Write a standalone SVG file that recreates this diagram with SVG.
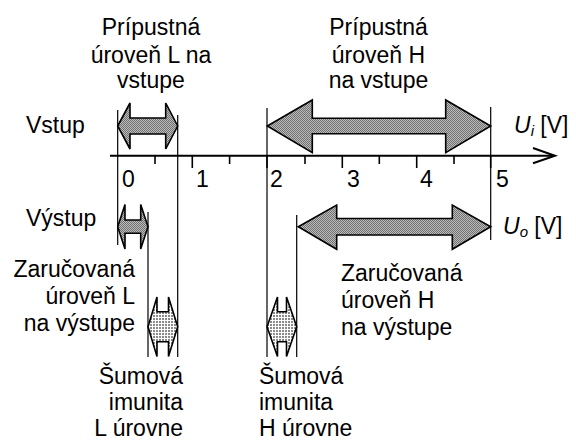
<svg xmlns="http://www.w3.org/2000/svg" width="576" height="442" viewBox="0 0 576 442">
<defs>
<pattern id="dots" width="2" height="2" patternUnits="userSpaceOnUse">
<rect width="2" height="2" fill="#bcbcbc"/>
<rect width="1" height="1" fill="#707070"/>
<rect x="1" y="1" width="1" height="1" fill="#707070"/>
</pattern>
<pattern id="grid" width="3" height="3" patternUnits="userSpaceOnUse">
<rect width="3" height="3" fill="#ffffff"/>
<rect width="2" height="2" fill="#8a8a8a"/>
</pattern>
</defs>
<style>
text{font-family:"Liberation Sans",Arial,sans-serif;font-size:23px;fill:#000}
.arr{stroke:#000;stroke-width:1.6;stroke-linejoin:miter}
.a1{fill:url(#dots)}
.a2{fill:url(#grid)}
.vl{stroke:#000;stroke-width:1.2;fill:none}
.tick{stroke:#000;stroke-width:1.6}
.mid{text-anchor:middle}
.end{text-anchor:end}
</style>
<rect width="576" height="442" fill="#fff"/>
<g id="guides">
<line class="vl" x1="117.7" y1="110" x2="117.7" y2="245"/>
<line class="vl" x1="177.7" y1="115" x2="177.7" y2="357"/>
<line class="vl" x1="148" y1="212" x2="148" y2="357"/>
<line class="vl" x1="267" y1="108" x2="267" y2="357"/>
<line class="vl" x1="296.7" y1="215" x2="296.7" y2="357"/>
<line class="vl" x1="490.7" y1="107" x2="490.7" y2="240"/>
</g>
<g id="axis">
<line x1="110" y1="155.7" x2="554" y2="155.7" stroke="#000" stroke-width="2"/>
<polyline points="533,148 555,155.7 533,163.3" fill="none" stroke="#000" stroke-width="2"/>
<line class="tick" x1="155" y1="155.7" x2="155" y2="164"/>
<line class="tick" x1="192.3" y1="155.7" x2="192.3" y2="168"/>
<line class="tick" x1="229.6" y1="155.7" x2="229.6" y2="164"/>
<line class="tick" x1="267" y1="155.7" x2="267" y2="168"/>
<line class="tick" x1="305" y1="155.7" x2="305" y2="164"/>
<line class="tick" x1="342.3" y1="155.7" x2="342.3" y2="168"/>
<line class="tick" x1="379.3" y1="155.7" x2="379.3" y2="164"/>
<line class="tick" x1="416.7" y1="155.7" x2="416.7" y2="168"/>
<line class="tick" x1="454" y1="155.7" x2="454" y2="164"/>
<line class="tick" x1="490.7" y1="155.7" x2="490.7" y2="168"/>
<text x="122" y="187">0</text>
<text x="196" y="187">1</text>
<text x="270" y="187">2</text>
<text x="347" y="187">3</text>
<text x="420" y="187">4</text>
<text x="496" y="187">5</text>
<text x="514" y="133"><tspan font-style="italic">U</tspan><tspan font-style="italic" font-size="15" dy="3">i</tspan><tspan dy="-3"> [V]</tspan></text>
<text x="503" y="234"><tspan font-style="italic">U</tspan><tspan font-style="italic" font-size="15" dy="3">o</tspan><tspan dy="-3"> [V]</tspan></text>
</g>
<g id="input-L">
<polygon class="arr a1" points="117.7,126 130,103 130,118 165.7,118 165.7,103 177.7,126 165.7,149 165.7,134 130,134 130,149"/>
<text class="mid" x="151" y="35">Prípustná</text>
<text class="mid" x="151" y="63">úroveň L na</text>
<text class="mid" x="151" y="88">vstupe</text>
</g>
<g id="input-H">
<polygon class="arr a1" points="267.3,126 312.3,100 312.3,118.3 445.7,118.3 445.7,100 490.7,126 445.7,152.7 445.7,133.7 312.3,133.7 312.3,152.7"/>
<text class="mid" x="378.5" y="35">Prípustná</text>
<text class="mid" x="378.5" y="63">úroveň H</text>
<text class="mid" x="378.5" y="88">na vstupe</text>
</g>
<g id="vstup-label">
<text x="26" y="133">Vstup</text>
</g>
<g id="vystup-label">
<text x="26" y="226">Výstup</text>
</g>
<g id="output-L">
<polygon class="arr a1" points="117.7,226.7 125,204.5 125,220 140.7,220 140.7,204.5 148,226.7 140.7,249 140.7,233.3 125,233.3 125,249"/>
<text class="end" x="135" y="277">Zaručovaná</text>
<text class="end" x="135" y="304">úroveň L</text>
<text class="end" x="135" y="331">na výstupe</text>
</g>
<g id="output-H">
<polygon class="arr a1" points="298.3,226.7 336.7,205 336.7,218.5 452.3,218.5 452.3,205 490.7,226.7 452.3,249.3 452.3,235 336.7,235 336.7,249.3"/>
<text x="341" y="281">Zaručovaná</text>
<text x="341" y="308">úroveň H</text>
<text x="341" y="335">na výstupe</text>
</g>
<g id="noise-L">
<polygon class="arr a2" points="148,326.7 157,297 157,311.7 168.5,311.7 168.5,297 177.7,326.7 168.5,356.5 168.5,341.7 157,341.7 157,356.5"/>
<text class="end" x="183" y="384">Šumová</text>
<text class="end" x="183" y="410">imunita</text>
<text class="end" x="183" y="436">L úrovne</text>
</g>
<g id="noise-H">
<polygon class="arr a2" points="267,326.7 277.5,297 277.5,311.7 286.5,311.7 286.5,297 296.7,326.7 286.5,356.5 286.5,341.7 277.5,341.7 277.5,356.5"/>
<text x="259" y="384">Šumová</text>
<text x="259" y="410">imunita</text>
<text x="259" y="436">H úrovne</text>
</g>
</svg>
